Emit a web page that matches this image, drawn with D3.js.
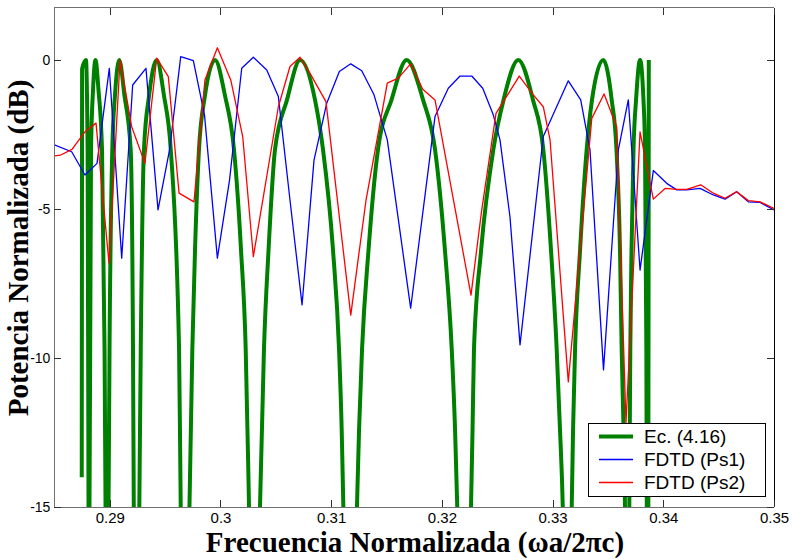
<!DOCTYPE html>
<html>
<head>
<meta charset="utf-8">
<script src="https://cdn.jsdelivr.net/npm/d3@7/dist/d3.min.js"></script>
<style>
  html, body { margin: 0; padding: 0; background: #fff; }
  svg { display: block; }
</style>
</head>
<body>
<svg id="chart" width="792" height="559"></svg>
<script>
// Axis ticks
const xTicks = [0.29, 0.30, 0.31, 0.32, 0.33, 0.34, 0.35];
const xTickLabels = ["0.29", "0.3", "0.31", "0.32", "0.33", "0.34", "0.35"];
const yTicks = [-15, -10, -5, 0];
const yTickLabels = ["-15", "-10", "-5", "0"];

// Series names (legend)
const seriesNames = ["Ec. (4.16)", "FDTD (Ps1)", "FDTD (Ps2)"];

// Ec. (4.16): normalized frequency / power (dB)
const ecFreq = [
  0.28747, 0.28750, 0.28785, 0.28800, 0.28808, 0.28813,
  0.28817, 0.28831, 0.28849, 0.28871, 0.28898, 0.28930, 0.28953, 0.28962, 0.28975,
  0.28989, 0.28998, 0.29023, 0.29047, 0.29086, 0.29133, 0.29189, 0.29210, 0.29217, 0.29242,
  0.29267, 0.29280, 0.29309, 0.29355, 0.29424, 0.29490, 0.29551, 0.29626, 0.29641, 0.29680,
  0.29720, 0.29746, 0.29770, 0.29806, 0.29860, 0.29951, 0.30041, 0.30122, 0.30186, 0.30228, 0.30258, 0.30308,
  0.30357, 0.30393, 0.30434, 0.30493, 0.30601, 0.30719, 0.30854, 0.30926, 0.31017, 0.31071, 0.31095, 0.31110, 0.31170,
  0.31233, 0.31252, 0.31279, 0.31337, 0.31423, 0.31545, 0.31682, 0.31830, 0.31938, 0.32028, 0.32089, 0.32119, 0.32139, 0.32200,
  0.32263, 0.32277, 0.32290, 0.32354, 0.32465, 0.32557, 0.32690, 0.32823, 0.32916, 0.32986, 0.33037, 0.33067, 0.33092, 0.33130,
  0.33173, 0.33185, 0.33203, 0.33248, 0.33308, 0.33356, 0.33458, 0.33534, 0.33577, 0.33609, 0.33624, 0.33641, 0.33654, 0.33672,
  0.33693, 0.33702, 0.33713, 0.33731, 0.33754, 0.33790, 0.33821, 0.33835, 0.33847, 0.33851, 0.33862,
  0.33869
];
const ecDb = [
  -14.0, -0.3, 0, -3, -15, -25,
  -15, -3, -1, 0, -1, -3, -9.7, -15, -25,
  -15, -9.7, -3, -1.2, 0, -1.2, -3, -9.7, -15, -25,
  -15, -9.7, -3, -1.2, 0, -1.2, -3, -9.7, -15, -25,
  -15, -9.7, -6.4, -3, -1.2, 0, -1.2, -3, -6.4, -9.7, -15, -25,
  -15, -9.7, -6.4, -3, -1.34, 0, -1.34, -3, -6.4, -9.7, -12.4, -15, -25,
  -15, -12.4, -9.7, -6.4, -3, -1.34, 0, -1.34, -3, -6.4, -9.7, -12.4, -15, -25,
  -15, -12.4, -9.7, -6.4, -3, -1.34, 0, -1.34, -3, -6.4, -9.7, -12.4, -15, -25,
  -15, -12.4, -9.7, -6.4, -3, -1.34, 0, -1.34, -3, -6.4, -9.7, -12.4, -15, -25,
  -15, -9.7, -6.4, -3, -1.34, 0, -1.34, -3, -9.7, -15, -25,
  0
];

// FDTD (Ps1)
const ps1Freq = [
  0.28500, 0.28656, 0.28776, 0.28885, 0.28996, 0.29108, 0.29207, 0.29327, 0.29436, 0.29540,
  0.29641, 0.29755, 0.29856, 0.29972, 0.30082, 0.30192, 0.30297, 0.30418, 0.30523, 0.30628,
  0.30737, 0.30845, 0.30960, 0.31074, 0.31177, 0.31276, 0.31387, 0.31507, 0.31718, 0.31938,
  0.32058, 0.32164, 0.32270, 0.32369, 0.32465, 0.32525, 0.32615, 0.32706, 0.32916, 0.33142,
  0.33254, 0.33338, 0.33460, 0.33594, 0.33684, 0.33790, 0.33910, 0.34031, 0.34121, 0.34212,
  0.34332, 0.34452, 0.34558, 0.34663, 0.34768, 0.34874, 0.35000
];
const ps1Db = [
  -2.85, -3.08, -3.86, -3.47, -0.28, -6.65, -0.84, -0.28, -5.03, -3.02,
  0.11, -0.02, -1.85, -6.65, -4.03, -0.28, 0.09, -0.34, -1.23, -4.70,
  -8.22, -3.36, -1.45, -0.39, -0.13, -0.36, -1.17, -2.68, -8.33, -1.90,
  -0.95, -0.54, -0.54, -0.95, -1.85, -2.68, -5.26, -9.56, -2.57, -0.70,
  -1.34, -3.02, -10.40, -3.02, -1.34, -7.05, -3.71, -4.14, -4.36, -4.36,
  -4.31, -4.53, -4.67, -4.42, -4.76, -4.78, -5.03
];

// FDTD (Ps2)
const ps2Freq = [
  0.28500, 0.28557, 0.28659, 0.28776, 0.28876, 0.28993, 0.29093, 0.29198, 0.29318, 0.29424,
  0.29529, 0.29626, 0.29761, 0.29860, 0.29972, 0.30093, 0.30201, 0.30297, 0.30523, 0.30628,
  0.30719, 0.30809, 0.30953, 0.31177, 0.31315, 0.31507, 0.31606, 0.31718, 0.31827, 0.31938,
  0.32263, 0.32360, 0.32489, 0.32555, 0.32699, 0.32826, 0.32916, 0.32977, 0.33142, 0.33354,
  0.33465, 0.33579, 0.33663, 0.33790, 0.33910, 0.34016, 0.34121, 0.34212, 0.34338, 0.34452,
  0.34558, 0.34663, 0.34768, 0.34874, 0.35000
];
const ps2Db = [
  -3.22, -3.19, -3.00, -2.41, -2.12, -6.82, 0.00, -2.24, -3.47, 0.06,
  -0.56, -4.47, -4.76, -0.67, 0.41, -0.67, -2.57, -6.60, -1.57, -0.22,
  0.09, -0.45, -1.40, -8.56, -4.70, -0.78, -0.61, -0.13, -0.98, -1.34,
  -7.89, -5.03, -1.79, -1.40, -0.54, -1.17, -1.57, -2.68, -10.80, -1.96,
  -1.14, -2.24, -12.18, -2.41, -4.67, -4.31, -4.34, -4.34, -4.19, -4.47,
  -4.64, -4.42, -4.72, -4.76, -4.98
];

const seriesColors = ["#008000", "#0000ff", "#ff0000"];
const seriesWidths = [4, 1.3, 1.3];

const svg = d3.select("#chart");
const plot = { left: 54.4, right: 774, top: 7.5, bottom: 507 };

const x = d3.scaleLinear().domain([0.285, 0.35]).range([plot.left, plot.right]);
const y = d3.scaleLinear().domain([-15, 1.76]).range([plot.bottom, plot.top]);

svg.append("rect").attr("width", 792).attr("height", 559).attr("fill", "#fff");

svg.append("defs").append("clipPath").attr("id", "plotClip")
  .append("rect")
  .attr("x", plot.left).attr("y", plot.top)
  .attr("width", plot.right - plot.left).attr("height", plot.bottom - plot.top);

const zip = (xs, ys) => xs.map((v, i) => [v, ys[i]]);
const series = [
  { data: zip(ecFreq, ecDb), curve: d3.curveMonotoneX },
  { data: zip(ps1Freq, ps1Db), curve: d3.curveLinear },
  { data: zip(ps2Freq, ps2Db), curve: d3.curveLinear }
];

const lines = svg.append("g").attr("clip-path", "url(#plotClip)");
series.forEach((s, i) => {
  const gen = d3.line().x(d => x(d[0])).y(d => y(d[1])).curve(s.curve);
  lines.append("path")
    .datum(s.data)
    .attr("d", gen)
    .attr("fill", "none")
    .attr("stroke", seriesColors[i])
    .attr("stroke-width", seriesWidths[i])
    .attr("stroke-linejoin", "round");
});

// Frame
const frame = svg.append("g").attr("shape-rendering", "crispEdges");
frame.append("line").attr("x1", plot.left).attr("x2", plot.right).attr("y1", plot.top).attr("y2", plot.top).attr("stroke", "#707070");
frame.append("line").attr("x1", plot.left).attr("x2", plot.right).attr("y1", plot.bottom).attr("y2", plot.bottom).attr("stroke", "#707070");
frame.append("line").attr("x1", plot.left).attr("x2", plot.left).attr("y1", plot.top).attr("y2", plot.bottom).attr("stroke", "#707070");
frame.append("line").attr("x1", plot.right).attr("x2", plot.right).attr("y1", plot.top).attr("y2", plot.bottom).attr("stroke", "#000");

// Axis titles (drawn under the tick labels)
svg.append("text")
  .attr("x", 415).attr("y", 552)
  .attr("text-anchor", "middle")
  .attr("font-family", "'Liberation Serif', 'Times New Roman', serif")
  .attr("font-weight", "bold")
  .attr("font-size", 29)
  .text("Frecuencia Normalizada (ωa/2πc)");

svg.append("text")
  .attr("transform", "translate(28,248) rotate(-90)")
  .attr("text-anchor", "middle")
  .attr("font-family", "'Liberation Serif', 'Times New Roman', serif")
  .attr("font-weight", "bold")
  .attr("font-size", 29)
  .text("Potencia Normalizada (dB)");

// Axes with inward ticks on all four sides
const tickLen = 7;
const fmtX = d => xTickLabels[xTicks.indexOf(d)];
const fmtY = d => yTickLabels[yTicks.indexOf(d)];

const xAxisB = svg.append("g").attr("transform", `translate(0,${plot.bottom})`)
  .call(d3.axisBottom(x).tickValues(xTicks).tickFormat(fmtX).tickSizeInner(-tickLen).tickSizeOuter(0).tickPadding(5));
const xAxisT = svg.append("g").attr("transform", `translate(0,${plot.top})`)
  .call(d3.axisTop(x).tickValues(xTicks).tickFormat("").tickSizeInner(-tickLen).tickSizeOuter(0));
const yAxisL = svg.append("g").attr("transform", `translate(${plot.left},0)`)
  .call(d3.axisLeft(y).tickValues(yTicks).tickFormat(fmtY).tickSizeInner(-tickLen).tickSizeOuter(0).tickPadding(4));
const yAxisR = svg.append("g").attr("transform", `translate(${plot.right},0)`)
  .call(d3.axisRight(y).tickValues(yTicks).tickFormat("").tickSizeInner(-tickLen).tickSizeOuter(0));

[xAxisB, xAxisT, yAxisL, yAxisR].forEach(a => {
  a.select(".domain").remove();
  a.selectAll(".tick line").attr("stroke", "#303030").attr("shape-rendering", "crispEdges");
  a.selectAll(".tick text")
    .attr("font-family", "'Liberation Sans', Arial, sans-serif")
    .attr("font-size", 15)
    .attr("fill", "#000");
});
yAxisL.selectAll(".tick text").attr("font-size", 14);

// Legend
const legend = svg.append("g");
legend.append("rect")
  .attr("x", 588.5).attr("y", 423.5)
  .attr("width", 177).attr("height", 73)
  .attr("fill", "#fff").attr("stroke", "#000").attr("stroke-width", 1);
seriesNames.forEach((name, i) => {
  const ly = 436.5 + i * 23;
  legend.append("line")
    .attr("x1", 599).attr("x2", 633).attr("y1", ly).attr("y2", ly)
    .attr("stroke", seriesColors[i]).attr("stroke-width", seriesWidths[i]);
  legend.append("text")
    .attr("x", 644).attr("y", ly)
    .attr("dy", "0.35em")
    .attr("font-family", "'Liberation Sans', Arial, sans-serif")
    .attr("font-size", 19)
    .attr("fill", "#000")
    .text(name);
});
</script>
</body>
</html>
